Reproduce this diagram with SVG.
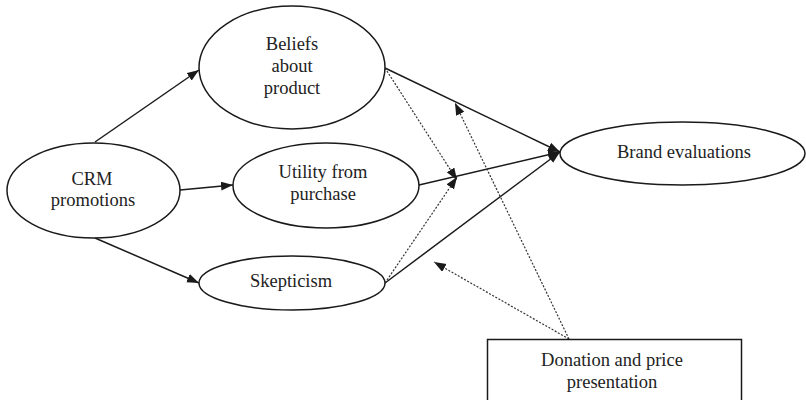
<svg xmlns="http://www.w3.org/2000/svg" width="806" height="400" viewBox="0 0 806 400">
<defs>
<marker id="ah" markerWidth="13" markerHeight="10" refX="12" refY="4.5" orient="auto" markerUnits="userSpaceOnUse">
<path d="M0,0 L12,4.5 L0,9 z" fill="#1a1a1a"/>
</marker>
<style>
.node{fill:#fff;stroke:#1a1a1a;stroke-width:1.5}
.t{font-family:"Liberation Serif","Times New Roman",serif;font-size:18.5px;fill:#222;text-anchor:middle}
.s{fill:none;stroke:#1a1a1a;stroke-width:1.5;marker-end:url(#ah)}
.d{fill:none;stroke:#333;stroke-width:1.2;stroke-dasharray:2,1.6;marker-end:url(#ah)}
</style>
</defs>
<rect width="806" height="400" fill="#fff"/>
<g id="connectors">
<path class="s" d="M95,142 L199,70"/>
<path class="s" d="M180,190 L233,185"/>
<path class="s" d="M95,238 L199,283"/>
<path class="s" d="M385,68 L560,152"/>
<path class="s" d="M419,185 L560,152"/>
<path class="s" d="M385,283 L560,152"/>
<path class="d" d="M385,68 L457,180"/>
<path class="d" d="M385,283 L457,177"/>
<path class="d" d="M569,339 L455,103"/>
<path class="d" d="M569,339 L434,262"/>
</g>
<g id="beliefs">
<ellipse class="node" cx="292" cy="67.5" rx="93" ry="61.5"/>
<text class="t" x="292" y="50">Beliefs</text>
<text class="t" x="292" y="72">about</text>
<text class="t" x="292" y="94">product</text>
</g>
<g id="crm">
<ellipse class="node" cx="93.5" cy="190.5" rx="86.5" ry="47.5"/>
<text class="t" x="92" y="185">CRM</text>
<text class="t" x="93" y="206">promotions</text>
</g>
<g id="utility">
<ellipse class="node" cx="326" cy="185.5" rx="93" ry="42.5"/>
<text class="t" x="323" y="178">Utility from</text>
<text class="t" x="323" y="200">purchase</text>
</g>
<g id="skepticism">
<ellipse class="node" cx="292" cy="283" rx="93" ry="27"/>
<text class="t" x="291" y="287">Skepticism</text>
</g>
<g id="brand">
<ellipse class="node" cx="682.5" cy="153.5" rx="122.5" ry="31.5"/>
<text class="t" x="684" y="158">Brand evaluations</text>
</g>
<g id="donation">
<rect class="node" x="487.5" y="339.5" width="254" height="70"/>
<text class="t" x="612" y="366">Donation and price</text>
<text class="t" x="612" y="388">presentation</text>
</g>
</svg>
